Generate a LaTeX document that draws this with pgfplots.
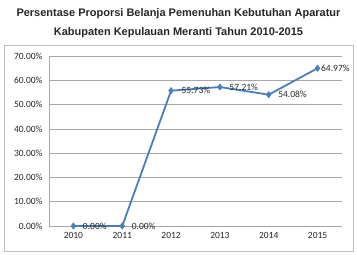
\documentclass[border=0pt]{standalone}
\usepackage{pgfplots}
\pgfplotsset{compat=1.18}
\usepackage{fontspec}
\setmainfont{Liberation Sans}
\newfontfamily\carlito{Carlito}
\definecolor{linec}{HTML}{4A7EBB}
\definecolor{gridc}{HTML}{A6A6A6}
\definecolor{framec}{HTML}{BFBFBF}
\definecolor{txt}{HTML}{262626}
\begin{document}
\begin{tikzpicture}[x=1pt,y=1pt]
\path[use as bounding box] (0,0) rectangle (357,255);
\draw[framec,line width=0.8pt] (4,4) rectangle (353,210);
\node[font=\bfseries\fontsize{11}{13}\selectfont,text=txt] at (178.5,241) {Persentase Proporsi Belanja Pemenuhan Kebutuhan Aparatur};
\node[font=\bfseries\fontsize{11}{13}\selectfont,text=txt] at (178.5,222) {Kabupaten Kepulauan Meranti Tahun 2010-2015};
\begin{axis}[
  at={(49pt,29pt)}, anchor=south west,
  scale only axis, width=293pt, height=170pt,
  xmin=-0.5, xmax=5.5, ymin=0, ymax=70,
  xtick={0,1,2,3,4,5},
  xticklabels={2010,2011,2012,2013,2014,2015},
  ytick={0,10,20,30,40,50,60,70},
  yticklabel={\pgfmathprintnumber[fixed,fixed zerofill,precision=2]{\tick}\%},
  /pgf/number format/assume math mode=true,
  axis x line=bottom, axis y line=left,
  axis line style={gridc,-},
  ymajorgrids, major grid style={gridc,line width=0.6pt},
  major tick length=0pt,
  tick label style={font=\carlito\fontsize{9.5}{11}\selectfont,text=txt},
  xticklabel style={yshift=-3pt},
  yticklabel style={xshift=-3pt},
  clip=false,
  nodes near coords={\pgfmathprintnumber[fixed,fixed zerofill,precision=2]{\pgfplotspointmeta}\%},
  point meta=explicit,
  visualization depends on={value \thisrow{xs}\as\xs},
  every node near coord/.append style={anchor=west,xshift=\xs pt,font=\carlito\fontsize{9.5}{11}\selectfont,text=txt},
]
\addplot[linec,line width=1.8pt,mark=diamond*,mark size=3.2pt,mark options={fill=linec,line width=0.5pt}]
  table[x=x,y=y,meta=y] {
x y xs
0 0.00 6
1 0.00 6
2 55.73 7
3 57.21 6
4 54.08 6
5 64.97 0
};
\end{axis}
\end{tikzpicture}
\end{document}
